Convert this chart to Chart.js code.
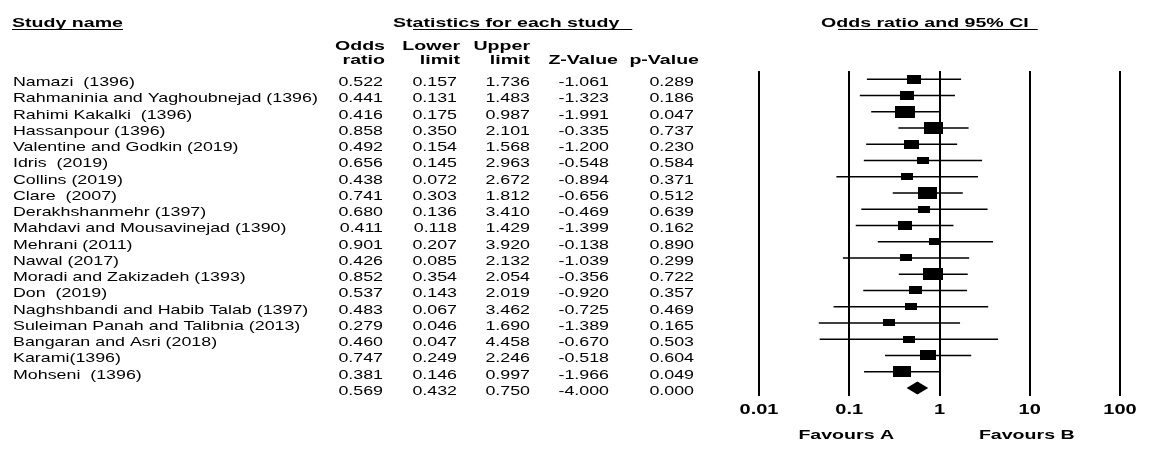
<!DOCTYPE html>
<html>
<head>
<meta charset="utf-8">
<title>Forest plot</title>
<script src="https://cdn.jsdelivr.net/npm/chart.js@4/dist/chart.umd.min.js"></script>
<style>
  html, body { margin: 0; padding: 0; background: #fff; }
  canvas { display: block; }
</style>
</head>
<body>
<canvas id="forest" width="1161" height="458"></canvas>
<script>
// ---- data -------------------------------------------------------------
const studyNames = [
  "Namazi  (1396)",
  "Rahmaninia and Yaghoubnejad (1396)",
  "Rahimi Kakalki  (1396)",
  "Hassanpour (1396)",
  "Valentine and Godkin (2019)",
  "Idris  (2019)",
  "Collins (2019)",
  "Clare  (2007)",
  "Derakhshanmehr (1397)",
  "Mahdavi and Mousavinejad (1390)",
  "Mehrani (2011)",
  "Nawal (2017)",
  "Moradi and Zakizadeh (1393)",
  "Don  (2019)",
  "Naghshbandi and Habib Talab (1397)",
  "Suleiman Panah and Talibnia (2013)",
  "Bangaran and Asri (2018)",
  "Karami(1396)",
  "Mohseni  (1396)"
];
const oddsRatio  = [0.522, 0.441, 0.416, 0.858, 0.492, 0.656, 0.438, 0.741, 0.680, 0.411, 0.901, 0.426, 0.852, 0.537, 0.483, 0.279, 0.460, 0.747, 0.381];
const lowerLimit = [0.157, 0.131, 0.175, 0.350, 0.154, 0.145, 0.072, 0.303, 0.136, 0.118, 0.207, 0.085, 0.354, 0.143, 0.067, 0.046, 0.047, 0.249, 0.146];
const upperLimit = [1.736, 1.483, 0.987, 2.101, 1.568, 2.963, 2.672, 1.812, 3.410, 1.429, 3.920, 2.132, 2.054, 2.019, 3.462, 1.690, 4.458, 2.246, 0.997];
const zValue     = [-1.061, -1.323, -1.991, -0.335, -1.200, -0.548, -0.894, -0.656, -0.469, -1.399, -0.138, -1.039, -0.356, -0.920, -0.725, -1.389, -0.670, -0.518, -1.966];
const pValue     = [0.289, 0.186, 0.047, 0.737, 0.230, 0.584, 0.371, 0.512, 0.639, 0.162, 0.890, 0.299, 0.722, 0.357, 0.469, 0.165, 0.503, 0.604, 0.049];

// pooled estimate (last row)
const pooledOR = 0.569;
const pooledLower = 0.432;
const pooledUpper = 0.750;
const pooledZ = -4.000;
const pooledP = 0.000;

const xTicks = [0.01, 0.1, 1, 10, 100];
const tickLabels = ["0.01", "0.1", "1", "10", "100"];
const headerLine1 = ["Odds", "Lower", "Upper", "", ""];
const headerLine2 = ["ratio", "limit", "limit", "Z-Value", "p-Value"];
const favourLabels = ["Favours A", "Favours B"];

// ---- layout / style ---------------------------------------------------
const FAMILY = '"Liberation Sans", Arial, sans-serif';
const REG = { font: '13.5px ' + FAMILY, sx: 1.32 };
const BOLD = { font: 'bold 13.5px ' + FAMILY, sx: 1.45 };
const TICK = { font: 'bold 14px ' + FAMILY, sx: 1.43 };
const headerRight = [385, 460, 530, 618, 699];
const valueRight = [383, 457, 530, 609, 694];
const nameLeft = 13;

const rows = studyNames.map((_, i) => i + 1);
const pooledRow = studyNames.length + 1;

// box side grows with inverse-variance weight, with a minimum size
const boxStyles = studyNames.map((_, i) => {
  const se = (Math.log(upperLimit[i]) - Math.log(lowerLimit[i])) / 3.92;
  const weight = 1 / (se * se);
  const w = Math.round(Math.max(12, 8.8 * Math.sqrt(weight)));
  const h = Math.round(w * 0.62);
  const c = document.createElement('canvas');
  c.width = w; c.height = h;
  const g = c.getContext('2d');
  g.fillStyle = '#000';
  g.fillRect(0, 0, w, h);
  return c;
});

// confidence interval segments, separated by gaps
const ciSegments = [];
rows.forEach((r, i) => {
  ciSegments.push({ x: lowerLimit[i], y: r }, { x: upperLimit[i], y: r }, { x: null, y: null });
});

function stretchedText(ctx, text, x, y, style, align) {
  ctx.save();
  ctx.font = style.font;
  ctx.fillStyle = '#000';
  ctx.textAlign = align || 'left';
  ctx.textBaseline = 'alphabetic';
  ctx.translate(x, y);
  ctx.scale(style.sx, 1);
  ctx.fillText(text, 0, 0);
  const w = ctx.measureText(text).width * style.sx;
  ctx.restore();
  return w;
}

function underline(ctx, x0, x1, y) {
  ctx.save();
  ctx.strokeStyle = '#000';
  ctx.lineWidth = 1.2;
  ctx.beginPath();
  ctx.moveTo(x0, y);
  ctx.lineTo(x1, y);
  ctx.stroke();
  ctx.restore();
}

const forestPlugin = {
  id: 'forestTable',
  beforeDraw(chart) {
    const ctx = chart.ctx;
    ctx.save();
    ctx.fillStyle = '#fff';
    ctx.fillRect(0, 0, chart.width, chart.height);
    ctx.restore();
  },
  afterDatasetsDraw(chart) {
    // pooled estimate diamond
    const ctx = chart.ctx;
    const xs = chart.scales.x, ys = chart.scales.y;
    const yc = ys.getPixelForValue(pooledRow);
    const half = Math.abs(ys.getPixelForValue(pooledRow + 0.4) - yc);
    ctx.save();
    ctx.fillStyle = '#000';
    ctx.beginPath();
    ctx.moveTo(xs.getPixelForValue(pooledLower), yc);
    ctx.lineTo(xs.getPixelForValue(pooledOR), yc - half);
    ctx.lineTo(xs.getPixelForValue(pooledUpper), yc);
    ctx.lineTo(xs.getPixelForValue(pooledOR), yc + half);
    ctx.closePath();
    ctx.fill();
    ctx.restore();
  },
  afterDraw(chart) {
    const ctx = chart.ctx;
    const xs = chart.scales.x, ys = chart.scales.y;

    // section titles
    let w = stretchedText(ctx, 'Study name', 12, 27, BOLD);
    underline(ctx, 12, 12 + w, 29.5);
    w = stretchedText(ctx, 'Statistics for each study', 393, 27, BOLD);
    underline(ctx, 413, 393 + w + 13, 29.5);
    w = stretchedText(ctx, 'Odds ratio and 95% CI', 821, 27, BOLD);
    underline(ctx, 838, 821 + w + 9, 29.5);

    // column headers
    headerLine1.forEach((t, k) => { if (t) stretchedText(ctx, t, headerRight[k], 49.5, BOLD, 'right'); });
    headerLine2.forEach((t, k) => stretchedText(ctx, t, headerRight[k], 64, BOLD, 'right'));

    // study rows
    rows.forEach((r, i) => {
      const y = ys.getPixelForValue(r) + 7;
      stretchedText(ctx, studyNames[i], nameLeft, y, REG);
      const vals = [oddsRatio[i], lowerLimit[i], upperLimit[i], zValue[i], pValue[i]];
      vals.forEach((v, k) => stretchedText(ctx, v.toFixed(3), valueRight[k], y, REG, 'right'));
    });
    // pooled row
    const yp = ys.getPixelForValue(pooledRow) + 7;
    [pooledOR, pooledLower, pooledUpper, pooledZ, pooledP].forEach((v, k) =>
      stretchedText(ctx, v.toFixed(3), valueRight[k], yp, REG, 'right'));

    // axis tick labels
    xTicks.forEach((v, k) => stretchedText(ctx, tickLabels[k], xs.getPixelForValue(v), 414, TICK, 'center'));

    // direction labels under the axis
    stretchedText(ctx, favourLabels[0], xs.getPixelForValue(0.1) - 3, 439, BOLD, 'center');
    stretchedText(ctx, favourLabels[1], xs.getPixelForValue(10) - 3, 439, BOLD, 'center');
  }
};

new Chart(document.getElementById('forest'), {
  type: 'scatter',
  data: {
    datasets: [
      {
        label: 'Odds ratio',
        data: rows.map((r, i) => ({ x: oddsRatio[i], y: r })),
        pointStyle: (c) => boxStyles[c.dataIndex],
        pointRadius: 6,
        pointBorderWidth: 0,
        showLine: false
      },
      {
        label: '95% CI',
        data: ciSegments,
        showLine: true,
        spanGaps: false,
        borderColor: '#000',
        borderWidth: 1.5,
        pointRadius: 0,
        fill: false
      }
    ]
  },
  options: {
    responsive: false,
    animation: false,
    devicePixelRatio: 1,
    events: [],
    layout: { padding: { left: 759, right: 41, top: 71, bottom: 62 } },
    plugins: { legend: { display: false }, tooltip: { enabled: false } },
    scales: {
      x: {
        type: 'logarithmic',
        min: 0.01,
        max: 100,
        position: 'bottom',
        afterBuildTicks: (s) => { s.ticks = xTicks.map(v => ({ value: v, major: true })); },
        afterFit: (s) => { s.height = 0; },
        ticks: { display: false },
        grid: { color: '#000', lineWidth: 2, drawTicks: false },
        border: { display: false }
      },
      y: {
        type: 'linear',
        min: 0.5,
        max: pooledRow + 0.5,
        reverse: true,
        display: false
      }
    }
  },
  plugins: [forestPlugin]
});
</script>
</body>
</html>
